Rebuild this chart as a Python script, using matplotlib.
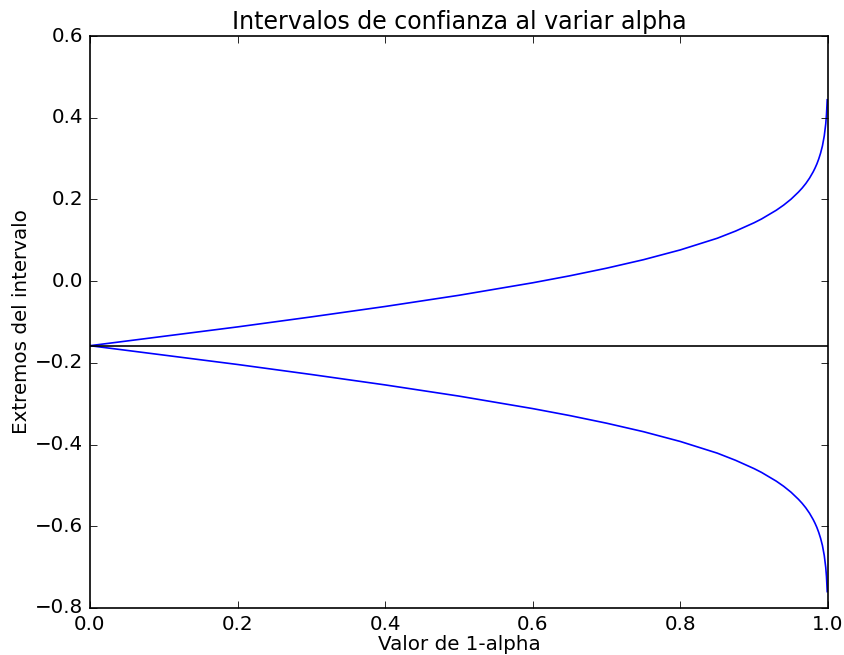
import matplotlib
matplotlib.use("Agg")
import matplotlib.pyplot as plt

plt.style.use("classic")
s = 1.19
plt.rcParams.update({
    "font.size": 12 * s,
    "lines.linewidth": 1.0 * s,
    "axes.linewidth": 1.0 * s,
    "xtick.major.size": 4 * s,
    "ytick.major.size": 4 * s,
    "xtick.major.width": 0.5 * s,
    "ytick.major.width": 0.5 * s,
    "xtick.major.pad": 4 * s,
    "ytick.major.pad": 4 * s,
})

# 1-alpha values
conf = [0.0, 0.1, 0.2, 0.3, 0.4, 0.5, 0.6, 0.65, 0.7, 0.75, 0.8, 0.85, 0.875,
        0.9, 0.91, 0.93, 0.94, 0.95, 0.96, 0.965, 0.97, 0.975, 0.98, 0.9825,
        0.985, 0.9875, 0.99, 0.9925, 0.995, 0.997, 0.998, 0.999]
# upper limit of the interval
upper = [-0.158, -0.135, -0.112, -0.0875, -0.062, -0.0346, -0.004, 0.013,
         0.0317, 0.0525, 0.0765, 0.105, 0.1227, 0.143, 0.1522, 0.1736, 0.1862,
         0.2007, 0.218, 0.2278, 0.239, 0.2521, 0.2677, 0.2768, 0.287, 0.2991,
         0.3134, 0.331, 0.3557, 0.385, 0.4075, 0.444]
# lower limit of the interval
lower = [-0.158, -0.181, -0.204, -0.2285, -0.254, -0.2814, -0.312, -0.329,
         -0.3477, -0.3685, -0.3925, -0.421, -0.4387, -0.459, -0.4682, -0.4896,
         -0.5022, -0.5167, -0.534, -0.5438, -0.555, -0.5681, -0.5837, -0.5928,
         -0.603, -0.6151, -0.6294, -0.647, -0.6717, -0.701, -0.7235, -0.760]
center = -0.158

fig = plt.figure(figsize=(8.44, 6.55), dpi=100, facecolor="white")
ax = fig.add_axes([0.1066, 0.0718, 0.8744, 0.8732])
ax.plot(conf, upper, color="b")
ax.plot(conf, lower, color="b")
ax.axhline(center, color="k")
ax.set_xlim(0, 1.0)
ax.set_ylim(-0.8, 0.6)
ax.set_title("Intervalos de confianza al variar alpha")
ax.set_xlabel("Valor de 1-alpha", labelpad=1)
ax.set_ylabel("Extremos del intervalo", labelpad=3)
fig.savefig("out.png", dpi=100, facecolor="white")
